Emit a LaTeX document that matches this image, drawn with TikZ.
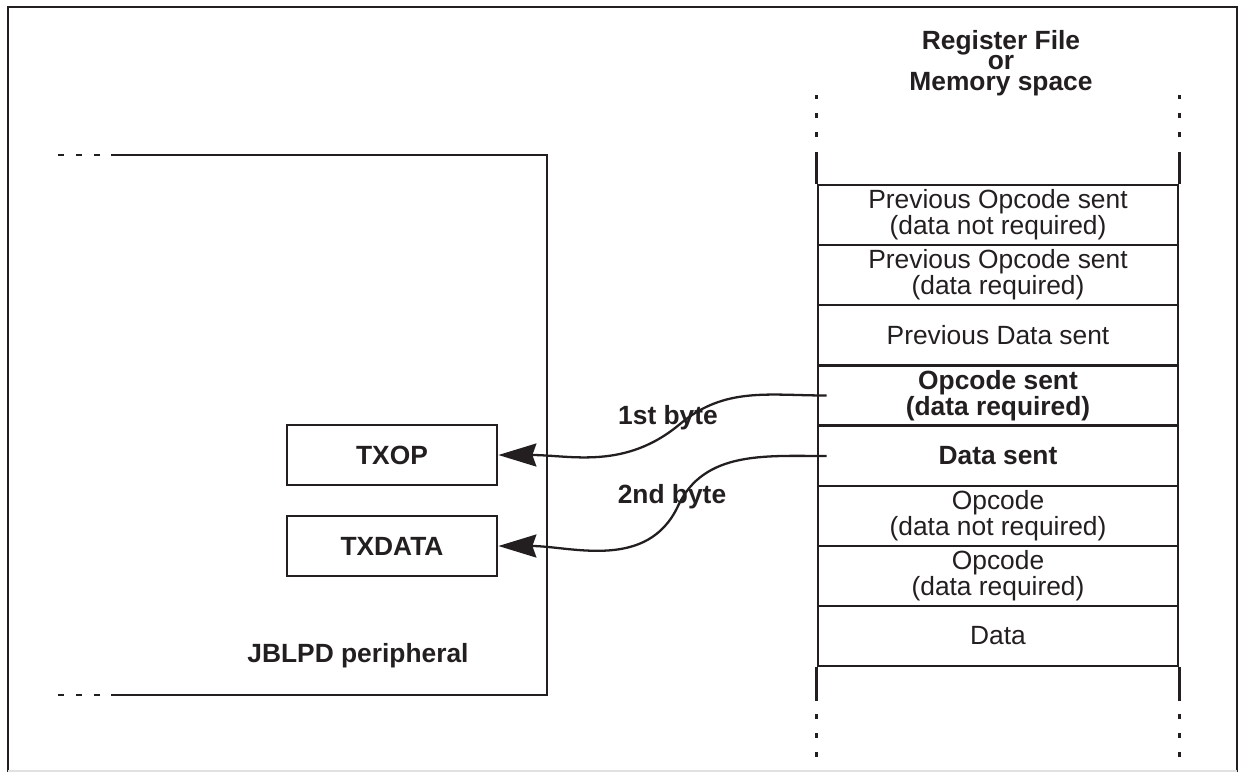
\documentclass[tikz,border=0pt]{standalone}
\usepackage{fontspec}
\setmainfont{Liberation Sans}
\usepackage{tikz}
\usetikzlibrary{arrows.meta, positioning, calc}
\definecolor{traitnoir}{RGB}{35,31,32}
\definecolor{cadregris}{RGB}{225,225,225}

\begin{document}
\begin{tikzpicture}[x=0.02cm, y=-0.02cm, line width=1.6pt, color=traitnoir,
    every node/.style={text=traitnoir, font=\fontsize{15}{13.7}\selectfont},
    row/.style={draw, rectangle, minimum width=7.2cm, minimum height=1.2cm, inner sep=0pt, align=center},
    boldrow/.style={row, font=\fontsize{15}{13.7}\selectfont\bfseries},
    regbox/.style={draw, rectangle, minimum width=4.2cm, minimum height=1.2cm, inner sep=0pt, font=\fontsize{15}{17}\selectfont\bfseries},
    lbl/.style={font=\fontsize{15}{11.6}\selectfont\bfseries, align=center, inner sep=0pt},
    vdots/.style={dash pattern=on 0.1cm off 0.28cm},
    hdots/.style={dash pattern=on 0.12cm off 0.24cm},
    byte/.style={line width=1.3pt, -{Stealth[length=0.76cm, width=0.46cm, inset=0.08cm]}}]
    \useasboundingbox (0,0) rectangle (1243,772);

    % outer frame
    \draw (8,772) -- (8,7) -- (1237,7) -- (1237,772);
    \draw[cadregris, line width=0.6pt] (8,771) -- (1237,771);

    % peripheral side
    \draw[hdots] (58,155) -- (101,155);
    \draw (111,155) -- (547,155) -- (547,695) -- (111,695);
    \draw[hdots] (58,695) -- (101,695);
    \node[regbox] (txop) at (392,455) {TXOP};
    \node[regbox] (txdata) at (392,546) {TXDATA};
    \node[lbl] (periph) at (358,656) {JBLPD peripheral};

    % register file / memory space
    \node[lbl] (title) at (1001,63) {Register File\\or\\Memory space};
    \node[row] (r1) at (998,215) {Previous Opcode sent\\(data not required)};
    \node[row] (r2) at (998,275) {Previous Opcode sent\\(data required)};
    \node[row] (r3) at (998,335) {Previous Data sent};
    \node[boldrow] (r4) at (998,395.5) {Opcode sent\\(data required)};
    \node[boldrow] (r5) at (998,456) {Data sent};
    \node[row] (r6) at (998,516) {Opcode\\(data not required)};
    \node[row] (r7) at (998,576) {Opcode\\(data required)};
    \node[row] (r8) at (998,636) {Data};

    \draw (r1.north west) -- ++(0,-32);
    \draw (r1.north east) -- ++(0,-32);
    \draw[vdots] ($(r1.north west)+(0,-47)$) -- ++(0,-42);
    \draw[vdots] ($(r1.north east)+(0,-47)$) -- ++(0,-42);
    \draw (r8.south west) -- ++(0,34);
    \draw (r8.south east) -- ++(0,34);
    \draw[vdots] ($(r8.south west)+(0,47)$) -- ++(0,44);
    \draw[vdots] ($(r8.south east)+(0,47)$) -- ++(0,44);

    % transfers
    \draw[byte] ($(r4.west)+(10,0)$) to[out=180, in=40] (680,424) to[out=220, in=0] (txop.east);
    \draw[byte] ($(r5.west)+(10,0)$) to[out=180, in=65] (678,506) to[out=245, in=0] (txdata.east);
    \node[lbl] (first) at (668,418) {1st byte};
    \node[lbl] (second) at (672,497) {2nd byte};
\end{tikzpicture}
\end{document}
